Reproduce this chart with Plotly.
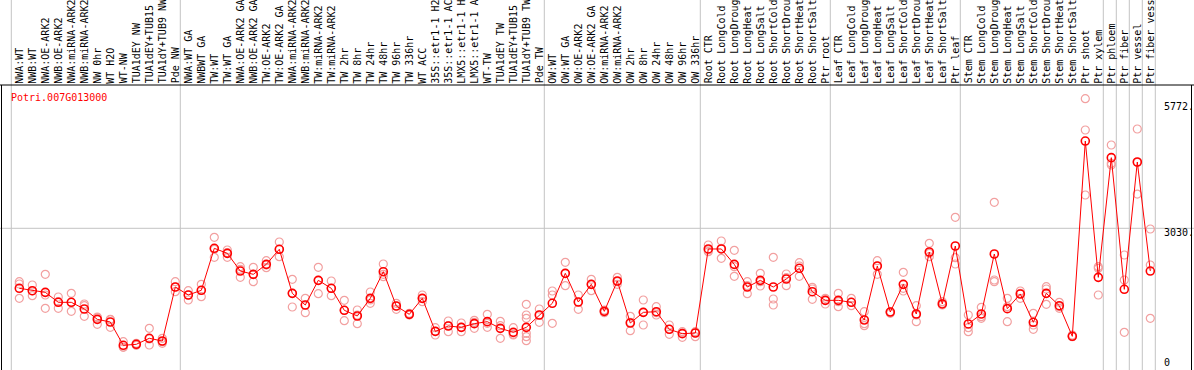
import plotly.graph_objects as go

gene = "Potri.007G013000"

samples = [
    "NWA:WT", "NWB:WT", "NWA:OE-ARK2", "NWB:OE-ARK2", "NWA:miRNA-ARK2", "NWB:miRNA-ARK2",
    "NW 0hr", "WT H2O", "WT-NW", "TUA1dEY NW", "TUA1dEY+TUB15 NW", "TUA1dY+TUB9 NW", "Pde NW",
    "NWA:WT GA", "NWBWT GA", "TW:WT", "TW:WT GA", "NWA:OE-ARK2 GA", "NWB:OE-ARK2 GA",
    "TW:OE-ARK2", "TW:OE-ARK2 GA", "NWA:miRNA-ARK2", "NWB:miRNA-ARK2", "TW:miRNA-ARK2",
    "TW:miRNA-ARK2", "TW 2hr", "TW 8hr", "TW 24hr", "TW 48hr", "TW 96hr", "TW 336hr",
    "WT ACC", "35S::etr1-1 H2O", "35S::etr1-1 ACC", "LMX5::etr1-1 H2O", "LMX5::etr1-1 ACC",
    "WT-TW", "TUA1dEY TW", "TUA1dEY+TUB15 TW", "TUA1dY+TUB9 TW", "Pde TW",
    "OW:WT", "OW:WT GA", "OW:OE-ARK2", "OW:OE-ARK2 GA", "OW:miRNA-ARK2", "OW:miRNA-ARK2",
    "OW 2hr", "OW 8hr", "OW 24hr", "OW 48hr", "OW 96hr", "OW 336hr",
    "Root CTR", "Root LongCold", "Root LongDrought", "Root LongHeat", "Root LongSalt",
    "Root ShortCold", "Root ShortDrought", "Root ShortHeat", "Root ShortSalt", "Ptr root",
    "Leaf CTR", "Leaf LongCold", "Leaf LongDrought", "Leaf LongHeat", "Leaf LongSalt",
    "Leaf ShortCold", "Leaf ShortDrought", "Leaf ShortHeat", "Leaf ShortSalt", "Ptr leaf",
    "Stem CTR", "Stem LongCold", "Stem LongDrought", "Stem LongHeat", "Stem LongSalt",
    "Stem ShortCold", "Stem ShortDrought", "Stem ShortHeat", "Stem ShortSalt",
    "Ptr shoot", "Ptr xylem", "Ptr phloem", "Ptr fiber", "Ptr vessel", "Ptr fiber vessel",
]

means = [
    1761, 1711, 1676, 1465, 1465, 1324, 1105, 1049, 556, 577, 704, 647, 1789,
    1620, 1719, 2607, 2501, 2127, 2057, 2268, 2586, 1655, 1408, 1930, 1761,
    1296, 1176, 1549, 2113, 1387, 1211, 1549, 851, 964, 936, 1014, 1056, 915,
    830, 936, 1197, 1444, 2078, 1472, 1845, 1274, 1916, 1028, 1253, 1267, 894,
    802, 816, 2593, 2593, 2268, 1789, 1930, 1789, 1958, 2184, 1690, 1507, 1507,
    1465, 1091, 2233, 1260, 1845, 1218, 2529, 1430, 2656, 1007, 1218, 2487,
    1331, 1641, 1042, 1655, 1394, 746, 4876, 1993, 4524, 1740, 4432, 2127,
]

replicates = [
    [1902, 1852, 1549], [1831, 1704, 1606], [2057, 1620, 1338], [1578, 1479, 1338],
    [1655, 1465, 1274], [1429, 1394, 1169], [1155, 1141, 1000], [1105, 1098, 936],
    [633, 520, 513], [598, 577, 556], [915, 563, 690], [704, 633, 598],
    [1902, 1690, 1789], [1711, 1514, 1620], [1845, 1585, 1719], [2839, 2416, 2586],
    [2571, 2416, 2515], [2219, 1993, 2163], [2205, 1902, 2057], [2346, 2198, 2254],
    [2741, 2430, 2586], [1951, 1366, 1655], [1549, 1246, 1408], [2205, 1648, 1930],
    [1916, 1606, 1761], [1507, 1077, 1296], [1303, 1014, 1197], [1683, 1444, 1514],
    [2275, 2007, 2057], [1444, 1317, 1387], [1232, 1197, 1211], [1620, 1549, 1479],
    [929, 774, 851], [1070, 845, 971], [1028, 845, 936], [1084, 915, 1042],
    [1211, 936, 1021], [1063, 704, 971], [929, 774, 788],
    [1422, 1197, 1127, 809, 739, 654],
    [1324, 1042, 1197], [1704, 1021, 1620], [2311, 1817, 2078], [1620, 1317, 1472],
    [1951, 1711, 1845], [1303, 1274, 1246], [1993, 1902, 1845], [1169, 866, 1042],
    [1514, 985, 1253], [1373, 1197, 1246], [985, 788, 894], [845, 725, 816],
    [845, 739, 816], [2677, 2571, 2536], [2762, 2395, 2607], [2564, 2015, 2219],
    [1902, 1648, 1817], [2078, 1810, 1902], [2416, 1535, 1408], [2064, 1817, 1986],
    [2304, 2015, 2233], [1782, 1528, 1747], [1549, 1429, 1514], [1655, 1373, 1479],
    [1549, 1394, 1465], [1267, 971, 1014], [2346, 2057, 2233], [1267, 1232, 1260],
    [2099, 1704, 1761], [1394, 1056, 1197], [2712, 2430, 2501], [1479, 1408, 1444],
    [3262, 2275, 2409], [1197, 845, 929], [1359, 1127, 1162], [3579, 1937, 1902],
    [1549, 1056, 1373], [1704, 1549, 1655], [1232, 894, 985], [1796, 1422, 1747],
    [1465, 1338, 1373], [774, 739, 746], [5772, 5109, 3734], [2219, 2184, 1620],
    [4792, 4404, 4369], [2466, 1937, 830], [5130, 4425, 3755], [3015, 2254, 1127],
]

# group separators: placed just after these sample indices
separators_after = [-1, 12, 40, 52, 62, 72, 83, 84, 85, 86, 87]

ytick_labels = ["5772.", "3030.", "0"]

W, H = 1194, 370
X0_PX, DX_PX = 19.3, 13.0          # pixel of first sample, pixel per sample
TOP_PX, ZERO_PX = 85.0, 371.6       # pixel of plot top border and of value 0
ymax_val = max(max(r) for r in replicates) * 1.05
upp = ymax_val / (ZERO_PX - TOP_PX)  # units per pixel

x_range = [(0 - X0_PX) / DX_PX, (W - X0_PX) / DX_PX]
y_range = [(ZERO_PX - H) * upp, ZERO_PX * upp]

xs = list(range(len(samples)))
rx, ry = [], []
for i, reps in enumerate(replicates):
    for v in reps:
        rx.append(i)
        ry.append(v)

fig = go.Figure()
fig.add_trace(go.Scatter(
    x=rx, y=ry, mode="markers",
    marker=dict(symbol="circle-open", size=8, color="#f2a0a0", line=dict(width=1.2, color="#f2a0a0")),
    hoverinfo="skip",
))
fig.add_trace(go.Scatter(
    x=xs, y=means, mode="lines+markers",
    line=dict(color="#ff0000", width=1),
    marker=dict(symbol="circle-open", size=8, color="#ff0000", line=dict(width=1.6, color="#ff0000")),
))

shapes = []
grid = "#c4c4c4"
for k in separators_after:
    xv = k + 5.0 / DX_PX
    shapes.append(dict(type="line", xref="x", yref="paper", x0=xv, x1=xv, y0=0, y1=1,
                       line=dict(color=grid, width=1), layer="below"))
shapes.append(dict(type="line", xref="paper", yref="y", x0=0, x1=1,
                   y0=ymax_val / 2, y1=ymax_val / 2, line=dict(color=grid, width=1), layer="below"))
# black frame
shapes.append(dict(type="line", xref="paper", yref="y", x0=0, x1=1, y0=ymax_val, y1=ymax_val,
                   line=dict(color="black", width=1)))
shapes.append(dict(type="line", xref="paper", yref="y", x0=1.5 / W, x1=1.5 / W, y0=y_range[0], y1=ymax_val,
                   line=dict(color="black", width=1)))
shapes.append(dict(type="line", xref="paper", yref="y", x0=1191.5 / W, x1=1191.5 / W, y0=y_range[0], y1=ymax_val,
                   line=dict(color="black", width=1)))

mono = "DejaVu Sans Mono"
annotations = []
for i, s in enumerate(samples):
    annotations.append(dict(
        x=i, xref="x", y=1 - 84.5 / H, yref="paper", text=s, textangle=-90,
        xanchor="center", yanchor="bottom", showarrow=False, borderpad=0,
        font=dict(family=mono, size=10, color="black"),
    ))
annotations.append(dict(
    x=10 / W, xref="paper", y=1 - 97 / H, yref="paper", text=gene,
    xanchor="left", yanchor="middle", showarrow=False, borderpad=0,
    font=dict(family=mono, size=10, color="#ff0000"),
))
for txt, ypx in zip(ytick_labels, [106.7, 232.7, 362.0]):
    annotations.append(dict(
        x=1163 / W, xref="paper", y=1 - ypx / H, yref="paper", text=txt,
        xanchor="left", yanchor="middle", showarrow=False, borderpad=0,
        font=dict(family=mono, size=10, color="black"),
    ))

fig.update_layout(
    width=W, height=H, margin=dict(l=0, r=0, t=0, b=0),
    paper_bgcolor="white", plot_bgcolor="white", showlegend=False,
    xaxis=dict(range=x_range, visible=False, fixedrange=True),
    yaxis=dict(range=y_range, visible=False, fixedrange=True, domain=[0, 1]),
    shapes=shapes, annotations=annotations,
)

fig.write_html(
    "out.html",
    config={"displayModeBar": False, "staticPlot": True},
    post_script="document.body.style.margin='0px';document.body.style.overflow='hidden';",
)
